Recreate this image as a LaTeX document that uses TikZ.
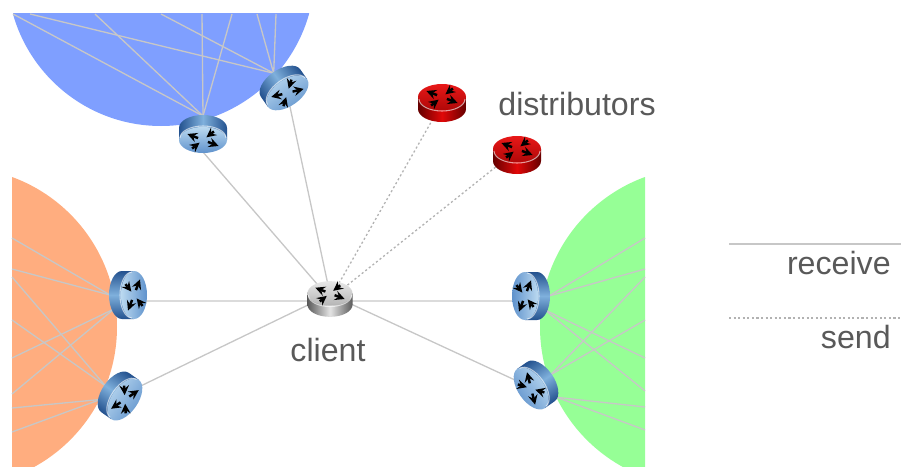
\documentclass[tikz,border=0pt]{standalone}
\usepackage{fontspec}
\setmainfont{Liberation Sans}
\usetikzlibrary{backgrounds}
\definecolor{blueside}{HTML}{24528F}
\definecolor{bluemid}{HTML}{7FB0DC}
\definecolor{bluetop}{HTML}{5F92CC}
\definecolor{bluelow}{HTML}{BBD9F0}
\definecolor{redside}{HTML}{660000}
\definecolor{redmid}{HTML}{E00808}
\definecolor{redtop}{HTML}{E81818}
\definecolor{redlow}{HTML}{B00808}
\definecolor{greyside}{HTML}{5A5A5A}
\definecolor{greymid}{HTML}{E4E4E4}
\definecolor{greytop}{HTML}{E8E8E8}
\definecolor{greylow}{HTML}{B4B4B4}
\definecolor{areablue}{HTML}{7F9FFF}
\definecolor{areaorange}{HTML}{FFAD7F}
\definecolor{areagreen}{HTML}{96FF96}
\definecolor{textgrey}{HTML}{595959}
\begin{document}
\begin{tikzpicture}
    [
        x=0.02cm, y=-0.02cm,
        link/.style = {line width=0.75pt, color=black!22},
        uplink/.style = {line width=1.1pt, color=black!14},
        sendlink/.style = {line width=0.75pt, color=black!30, dash pattern=on 1.2pt off 1.4pt},
        caption/.style = {text=textgrey, font=\fontsize{18.3}{20}\selectfont, inner sep=0pt},
        routerarrow/.style = {line width=1.4pt, black, >=stealth},
        pics/router/.style 2 args = {code = {
            \begin{scope}[rotate=#1]
            \pgfmathsetmacro{\sideangle}{#1+90}
            \shade[top color=#2side, bottom color=#2side, middle color=#2mid, shading angle=\sideangle]
                (-24,-6) -- (-24,6) arc [start angle=180, end angle=0, x radius=24, y radius=13] -- (24,-6) -- cycle;
            \shade[top color=#2top, bottom color=#2low, shading angle=#1]
                (0,-6) ellipse [x radius=24, y radius=13];
            \draw[white, opacity=0.6, line width=0.6pt]
                (-23,-4) arc [start angle=180, end angle=0, x radius=23, y radius=12];
            \begin{scope}[shift={(0,-6)}, yscale=0.55]
                \foreach \ang in {35,215} \draw[routerarrow,->] (\ang:6) -- (\ang:19);
                \foreach \ang in {125,305} \draw[routerarrow,<-] (\ang:6) -- (\ang:19);
            \end{scope}
            \coordinate (-hub) at (0,0);
            \coordinate (-a) at (0,18);
            \coordinate (-b) at (14,14);
            \coordinate (-c) at (-14,14);
            \coordinate (-d) at (-22,10);
            \coordinate (-e) at (0,-18);
            \coordinate (-f) at (0,-5);
            \end{scope}
        }}
    ]

    \useasboundingbox (0,0) rectangle (901,466);

    % routers
    \pic (top1) at (203,134) {router={180}{blue}};
    \pic (top2) at (284,88) {router={-145}{blue}};
    \pic (left1) at (128,295) {router={-90}{blue}};
    \pic (left2) at (120,396) {router={-125}{blue}};
    \pic (right1) at (531,296) {router={90}{blue}};
    \pic (right2) at (536,385) {router={125}{blue}};
    \pic (dist1) at (442,103) {router={0}{red}};
    \pic (dist2) at (517,155) {router={0}{red}};
    \pic[scale=0.94] (client) at (330,299) {router={0}{grey}};

    % free ends on the rim of the areas
    \foreach \n/\x/\y in {t1/13/14, t2/95/14, t3/202/14, t4/232/14, t5/30/14, t6/161/14, t7/257/14, t8/276/14,
                          l1/12/238, l2/12/269, l3/12/358, l4/12/394, l5/12/277, l6/12/320, l7/12/408, l8/12/432,
                          g1/645/238, g2/645/269, g3/645/358, g4/645/391, g5/645/277, g6/645/320, g7/645/407, g8/645/430}
        \coordinate (\n) at (\x,\y);

    \begin{pgfonlayer}{background}
        \begin{scope}
            \clip (13,14) rectangle (309,127);
            \fill[areablue] (161,-27.8) circle [radius=153.8];
        \end{scope}
        \begin{scope}
            \clip (12,177) rectangle (117,466);
            \fill[areaorange] (-42.6,327) circle [radius=159.6];
        \end{scope}
        \begin{scope}
            \clip (540,177) rectangle (645,466);
            \fill[areagreen] (699.6,327) circle [radius=159.6];
        \end{scope}

        \foreach \from/\to in {top1-a/t1, top1-a/t2, top1-a/t3, top1-a/t4, top2-a/t5, top2-a/t6, top2-a/t7, top2-a/t8,
                               left1-a/l1, left1-a/l2, left1-b/l3, left1-b/l4, left2-a/l5, left2-a/l6, left2-b/l7, left2-b/l8,
                               right1-a/g1, right1-a/g2, right1-c/g3, right1-c/g4, right2-a/g5, right2-a/g6, right2-d/g7, right2-d/g8}
            \draw[link] (\from) -- (\to);

        \draw[link] (top1-e) -- (client-hub);
        \draw[link] (top2-f) -- (client-f);
        \draw[link] (left2-hub) -- (client-f);
        \draw[link] (right2-f) -- (client-f);
        \draw[uplink] ([yshift=-0.04cm]client-hub) -- ([yshift=-0.04cm]client-hub -| left1-hub);
        \draw[uplink] ([yshift=-0.04cm]client-hub) -- ([yshift=-0.04cm]client-hub -| right1-hub);
        \draw[sendlink] (dist1-hub) -- (client-hub);
        \draw[sendlink] (dist2-f) -- (client-hub);
    \end{pgfonlayer}

    \node (distlabel) [caption] at (577,104) {distributors};
    \node (clientlabel) [caption] at (328,350) {client};

    % legend
    \coordinate (recvstart) at (729,244);
    \coordinate (recvend) at (901,244);
    \coordinate (sendstart) at (729,318);
    \coordinate (sendend) at (901,318);
    \draw[link] (recvstart) -- (recvend);
    \draw[sendlink] (sendstart) -- (sendend);
    \node (recvlabel) [caption, anchor=east] at (891,263) {receive};
    \node (sendlabel) [caption, anchor=east] at (891,337) {send};

\end{tikzpicture}
\end{document}
